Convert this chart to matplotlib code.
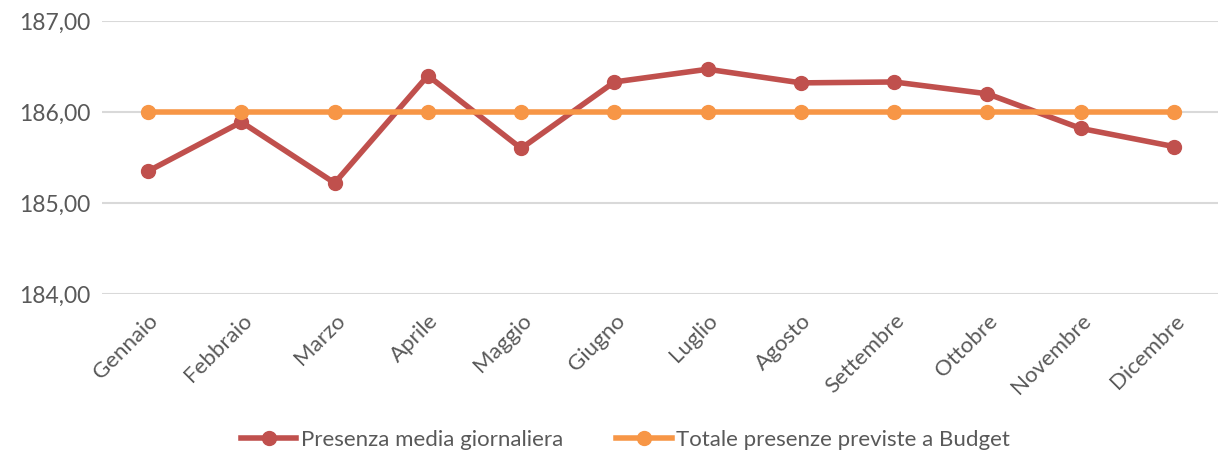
import matplotlib.pyplot as plt
import numpy as np

mesi = ["Gennaio", "Febbraio", "Marzo", "Aprile", "Maggio", "Giugno",
        "Luglio", "Agosto", "Settembre", "Ottobre", "Novembre", "Dicembre"]
presenza_media = [185.35, 185.89, 185.22, 186.40, 185.60, 186.33,
                  186.47, 186.32, 186.33, 186.20, 185.82, 185.62]
budget = [186.00] * 12
yticks = [184, 185, 186, 187]

plt.rcParams['font.family'] = ['Lato', 'DejaVu Sans']
grey = '#595959'

fig = plt.figure(figsize=(12.18, 4.54), dpi=100)
ax = fig.add_axes([101.5 / 1218, 1 - 294 / 454, 1 - 101.5 / 1218, (294 - 21) / 454])

x = np.arange(len(mesi))
ax.plot(x, presenza_media, color='#C0504D', lw=4, marker='o', ms=10,
        label='Presenza media giornaliera', zorder=3)
ax.plot(x, budget, color='#F79646', lw=4, marker='o', ms=10,
        label='Totale presenze previste a Budget', zorder=4)

ax.set_xlim(-0.5, (1218 - 148) / 93.27)
ax.set_ylim(184, 187)
ax.set_yticks(yticks)
ax.set_yticklabels([f"{v:.2f}".replace('.', ',') for v in yticks], fontsize=16.5, color=grey)
ax.set_xticks(x)
ax.set_xticklabels(mesi, rotation=45, ha='right', rotation_mode='anchor',
                   fontsize=16, color=grey)
ax.tick_params(length=0, pad=8)
ax.tick_params(axis='x', pad=12)
ax.grid(axis='y', color='#D9D9D9', lw=1.5)
ax.set_axisbelow(True)
for s in ax.spines.values():
    s.set_visible(False)

leg = fig.legend(loc='center', bbox_to_anchor=(625.5 / 1218, 1 - 440 / 454), ncol=2,
                 frameon=False, fontsize=16, handlelength=2.5, columnspacing=2.4,
                 handletextpad=0.2)
for t in leg.get_texts():
    t.set_color(grey)

fig.savefig('out.png', dpi=100)
